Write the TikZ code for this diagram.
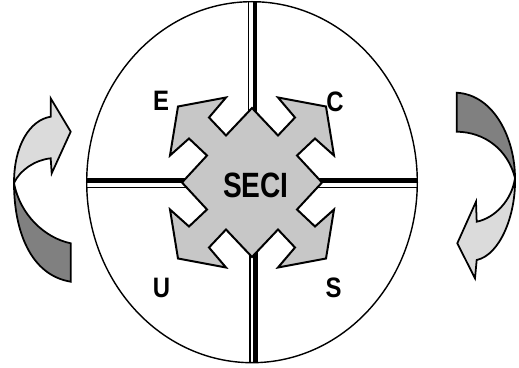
\documentclass[tikz,border=0pt]{standalone}
\usepackage{fontspec}
\setmainfont{Liberation Sans}
\usepackage{graphicx}
\usepackage{tikz}
\tikzset{
  outline/.style={draw=black, line width=1.5pt},
  ribbonlight/.style={outline, fill=black!14},
  ribbondark/.style={outline, fill=black!50},
  starfill/.style={outline, line width=1.7pt, fill=black!22},
  thickrule/.style={line width=4pt},
  thinrule/.style={line width=1.2pt},
  quadlbl/.style={font=\fontsize{24}{24}\selectfont\bfseries, inner sep=0pt, anchor=base},
}

\begin{document}
\begin{tikzpicture}[x=0.03cm, y=-0.03cm]
\useasboundingbox (0,0) rectangle (519,368);
% circle with its quadrant rules
\begin{scope}
\clip (252,182.2) ellipse [x radius=165.3, y radius=180.5];
\draw[thickrule] (255,0) -- (255,182);
\draw[thinrule] (248.5,0) -- (248.5,182);
\draw[thickrule] (255.5,182) -- (255.5,368);
\draw[thinrule] (250,182) -- (250,368);
\draw[thickrule] (80,180.5) -- (430,180.5);
\draw[thinrule] (80,187.5) -- (430,187.5);
\end{scope}
\draw[line width=1.2pt] (252,182.2) ellipse [x radius=165.3, y radius=180.5];
% centre diamond with four arrows
\begin{scope}[shift={(252,182.5)}, yscale=-1]
\draw[starfill]
  (0,74.5) -- (26,47) -- (43,65) -- (26,85) -- (74,76) -- (82,27) -- (63,44) -- (45,27) -- (70,0)
  -- (45,-27) -- (63,-44) -- (82,-27) -- (74,-76) -- (26,-85) -- (43,-65) -- (26,-47) -- (0,-74.5)
  -- (-26,-47) -- (-43,-65) -- (-26,-85) -- (-74,-76) -- (-82,-27) -- (-63,-44) -- (-45,-27) -- (-70,0)
  -- (-45,27) -- (-63,44) -- (-82,27) -- (-74,76) -- (-26,85) -- (-43,65) -- (-26,47) -- cycle;
\end{scope}
\node[anchor=base, inner sep=0pt, font=\fontsize{30}{30}\selectfont\bfseries] (seci) at (256,198) {\scalebox{0.8}[1]{SECI}};
\node[quadlbl] (lblE) at (161,111) {\scalebox{0.85}[1]{E}};
\node[quadlbl] (lblC) at (335,111.5) {\scalebox{0.85}[1]{C}};
\node[quadlbl] (lblU) at (161.5,298) {\scalebox{0.85}[1]{U}};
\node[quadlbl] (lblS) at (333.5,298) {\scalebox{0.85}[1]{S}};
% left ribbon arrow
\draw[ribbondark] (14,183) .. controls (14,230) and (30,275) .. (70.7,281.7)
  -- (70.7,243.3) .. controls (45,238) and (20,215) .. (14,183) -- cycle;
\draw[ribbonlight] (14,183) .. controls (14,145) and (30,120) .. (50.7,116.7)
  -- (50.7,98.3) -- (70.7,131.7) -- (51.7,173.3) -- (50.7,158.3)
  .. controls (35,160) and (20,170) .. (14,183) -- cycle;
% right ribbon arrow
\draw[ribbondark] (456.7,92.7) .. controls (495,95) and (515,140) .. (515,178)
  .. controls (508,150) and (485,132) .. (456.7,131.7) -- cycle;
\draw[ribbonlight] (515,178) .. controls (512,200) and (495,218) .. (476.7,221.7)
  -- (476,201.7) -- (457.3,243.3) -- (475,278.3) -- (476.7,260)
  .. controls (500,255) and (516,215) .. (515,178) -- cycle;
\end{tikzpicture}
\end{document}
